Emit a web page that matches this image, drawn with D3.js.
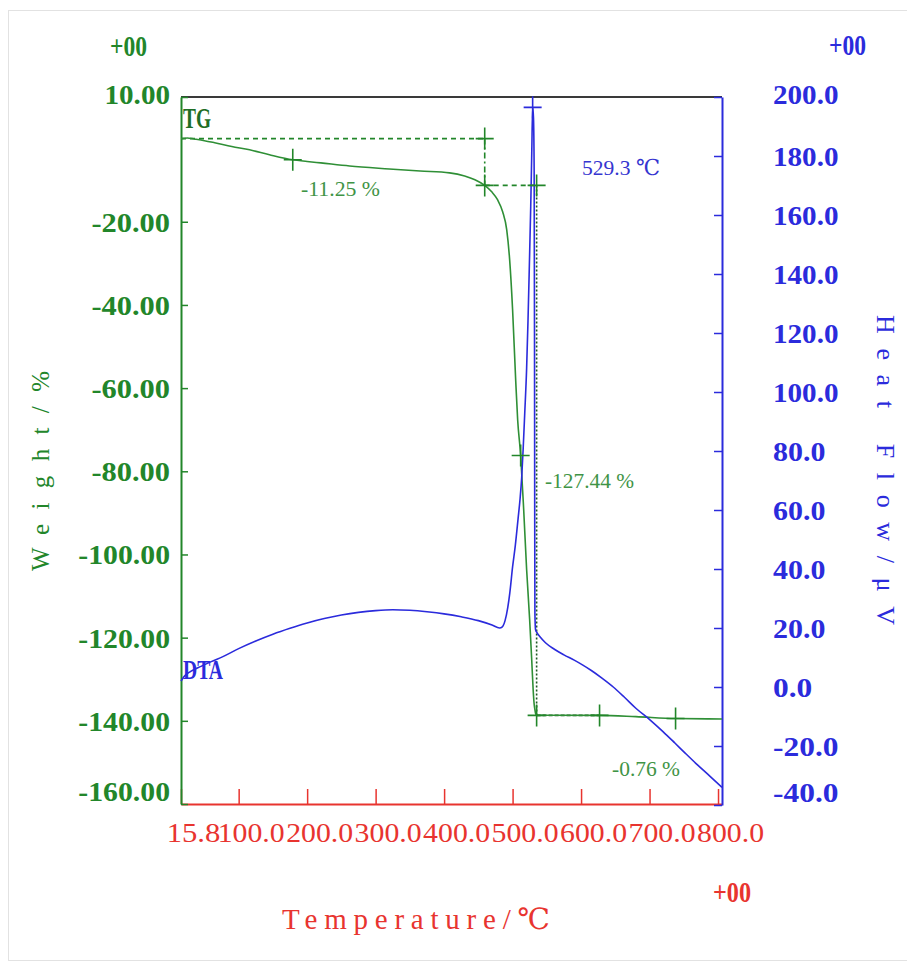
<!DOCTYPE html>
<html>
<head>
<meta charset="utf-8">
<script src="https://cdn.jsdelivr.net/npm/d3@7"></script>
<style>
  html, body { margin: 0; padding: 0; background: #fff; }
  svg { display: block; }
</style>
</head>
<body>
<svg id="chart" width="907" height="968"></svg>
<script>
// TG curve: temperature (°C) and weight change (%)
const tgTemp = [15.8, 25, 35, 50, 65, 90, 116, 145, 179, 200, 220, 262, 320, 365, 408, 430, 445,
  459.3, 469.5, 478, 485.5, 491.4, 495.7, 500, 504.5, 507.4, 511.8, 516.2, 520.5, 524.9, 527.9,
  530, 531.5, 532.5, 533.5, 535.1, 560, 627, 680, 738, 805.8];
const tgWeight = [0.0, 0.15, -0.1, -0.5, -1.0, -1.9, -2.7, -3.9, -5.1, -5.5, -5.85, -6.6, -7.3, -7.8, -8.25, -9.0, -9.9,
  -11.25, -12.8, -14.7, -17.6, -21.9, -29.1, -41.1, -58.0, -67.6, -76.2, -89.2, -103.6, -115.6, -125.2,
  -132.4, -136.0, -137.2, -138.2, -138.69, -138.65, -138.69, -139.0, -139.45, -139.55];

// DTA curve: temperature (°C) and heat flow (µV)
const dtaTemp = [15.8, 20, 30, 45, 60, 77, 100, 125, 150, 175, 200, 225, 250, 275, 300, 325, 350, 375, 400,
  425, 450, 470, 481, 485, 489, 493, 496, 500, 504, 508, 511, 513.3, 515.5, 517.6, 520.5, 522.5, 524.5,
  526.5, 528, 529.3, 530.5, 531.5, 532.0, 532.3, 532.6, 533.5, 536, 540, 548, 561, 575, 590, 602, 615,
  630, 647, 663, 680, 701, 720, 737, 752, 770, 788, 805.8];
const dtaHeat = [2.0, 3.5, 5.3, 7.0, 8.6, 10.3, 13.0, 15.6, 17.9, 19.9, 21.7, 23.2, 24.4, 25.3, 25.9, 26.2, 26.0, 25.5, 24.8,
  23.8, 22.5, 21.0, 20.0, 20.4, 22.5, 27.0, 32.0, 40.7, 48.0, 57.0, 64.0, 71.0, 81.0, 92.0, 108.0, 124.0, 143.0,
  163.0, 181.0, 196.5, 193.0, 175.0, 120.0, 60.0, 25.0, 19.5, 18.3, 17.0, 15.0, 12.8, 10.9, 9.1, 7.5, 5.6,
  3.1, 0.0, -3.4, -7.2, -11.2, -15.2, -19.0, -22.4, -26.4, -30.2, -34.0];

// Axis ticks
const tempTicks = [15.8, 100, 200, 300, 400, 500, 600, 700, 800];
const weightTicks = [10, -20, -40, -60, -80, -100, -120, -140, -160];
const heatTicks = [200, 180, 160, 140, 120, 100, 80, 60, 40, 20, 0, -20, -40];

// Step analysis of the TG curve
const stepStartTemp = 459.3;   // end of the first step
const stepEndTemp = 535.1;     // end of the main decomposition step
const tailTemps = [627, 738];  // span of the last small step
const levelStart = 0.0;
const levelAfterFirst = -11.25;
const levelAfterMain = -138.69;
const levelTail = -139.45;
const midMarker = [179, -5.1];
const inflexMarker = [511.8, -76.2];

// DTA peak
const peakTemp = 529.3;
const peakHeat = 196.5;

const GREEN = "#22862a", BLUE = "#2b2bdc", RED = "#e8342f";
const SERIF = "'Liberation Serif', 'DejaVu Serif', serif";

const svg = d3.select("#chart");

// outer frame of the figure
svg.append("rect").attr("x", 8.5).attr("y", 10.5).attr("width", 920).attr("height", 950)
  .attr("fill", "none").attr("stroke", "#e2e2e2").attr("stroke-width", 1);

const x = d3.scaleLinear().domain([15.8, 805.8]).range([181, 722]);
const yL = d3.scaleLinear().domain([-160, 10]).range([804, 97]);
const yR = d3.scaleLinear().domain([-40, 200]).range([805, 97]);

function txt(g, s, opts) {
  const t = g.append("text").text(s)
    .attr("font-family", SERIF)
    .attr("font-size", opts.size)
    .attr("font-weight", opts.weight || "normal")
    .attr("fill", opts.color)
    .attr("text-anchor", opts.anchor || "start");
  if (opts.len) t.attr("textLength", opts.len).attr("lengthAdjust", opts.adjust || "spacingAndGlyphs");
  if (opts.transform) t.attr("transform", opts.transform);
  else t.attr("x", opts.x).attr("y", opts.y);
  return t;
}

// top frame line
svg.append("line").attr("x1", x.range()[0]).attr("x2", x.range()[1])
  .attr("y1", yL.range()[1]).attr("y2", yL.range()[1])
  .attr("stroke", "#3a3a3a").attr("stroke-width", 2);

// bottom axis (temperature)
const gx = svg.append("g").attr("transform", `translate(0,${yL.range()[0]})`)
  .call(d3.axisBottom(x).tickValues(tempTicks).tickSizeInner(-15).tickSizeOuter(0)
    .tickPadding(19).tickFormat(d => d.toFixed(1)));
gx.select(".domain").attr("stroke", RED).attr("stroke-width", 2);
gx.selectAll(".tick line").attr("stroke", RED).attr("stroke-width", 1.5);
gx.selectAll(".tick text").attr("fill", RED).attr("font-family", SERIF).attr("font-size", 27)
  .attr("dx", 12).attr("dy", "0.7em")
  .attr("textLength", function() { return this.textContent.length * 13.4; })
  .attr("lengthAdjust", "spacingAndGlyphs");

// left axis (weight)
const gl = svg.append("g").attr("transform", `translate(${x.range()[0]},0)`)
  .call(d3.axisLeft(yL).tickValues(weightTicks).tickSizeInner(-7).tickSizeOuter(0)
    .tickPadding(11).tickFormat(d => d.toFixed(2)));
gl.select(".domain").attr("stroke", GREEN).attr("stroke-width", 2);
gl.selectAll(".tick line").attr("stroke", GREEN).attr("stroke-width", 1.5);
gl.selectAll(".tick text").attr("fill", GREEN).attr("font-family", SERIF).attr("font-size", 27)
  .attr("font-weight", "bold")
  .attr("textLength", function() { return this.textContent.length * 13.1; })
  .attr("lengthAdjust", "spacingAndGlyphs")
  .attr("dy", d => d === weightTicks[weightTicks.length - 1] ? "-0.12em" : (d === weightTicks[0] ? "0.25em" : "0.35em"));

// right axis (heat flow)
const gr = svg.append("g").attr("transform", `translate(${x.range()[1]},0)`)
  .call(d3.axisRight(yR).tickValues(heatTicks).tickSizeInner(-8).tickSizeOuter(0)
    .tickPadding(51).tickFormat(d => d.toFixed(1)));
gr.select(".domain").attr("stroke", BLUE).attr("stroke-width", 2);
gr.selectAll(".tick line").attr("stroke", BLUE).attr("stroke-width", 1.5);
gr.selectAll(".tick text").attr("fill", BLUE).attr("font-family", SERIF).attr("font-size", 27)
  .attr("font-weight", "bold")
  .attr("textLength", function() { return this.textContent.length * 13.1; })
  .attr("lengthAdjust", "spacingAndGlyphs")
  .attr("dy", d => d === heatTicks[heatTicks.length - 1] ? "-0.12em" : (d === heatTicks[0] ? "0.25em" : "0.35em"));

// exponent markers of each axis
txt(svg, "+00", { x: 110, y: 56, size: 29, weight: "bold", color: GREEN, len: 37 });
txt(svg, "+00", { x: 829, y: 55, size: 29, weight: "bold", color: BLUE, len: 37 });
txt(svg, "+00", { x: 713, y: 902, size: 29, weight: "bold", color: RED, len: 38 });

// axis titles
txt(svg, "Weight/%", { transform: "translate(49,471) rotate(-90)", size: 25, color: GREEN,
  anchor: "middle", len: 200, adjust: "spacing" });
txt(svg, "Heat Flow/μV", { transform: "translate(877,470) rotate(90)", size: 26, color: BLUE,
  anchor: "middle", len: 310, adjust: "spacing" });
txt(svg, "Temperature/℃", { x: 416, y: 929, size: 29, color: RED, anchor: "middle", len: 268, adjust: "spacing" });

// step guide lines
const plot = svg.append("g");
function guide(t1, w1, t2, w2, dash, color) {
  plot.append("line").attr("x1", x(t1)).attr("y1", yL(w1)).attr("x2", x(t2)).attr("y2", yL(w2))
    .attr("stroke", color || GREEN).attr("stroke-width", 1.6).attr("stroke-dasharray", dash);
}
guide(tempTicks[0], levelStart, stepStartTemp, levelStart, "5,4");
guide(stepStartTemp, levelStart, stepStartTemp, levelAfterFirst, "6,3,2,3");
guide(stepStartTemp, levelAfterFirst, stepEndTemp, levelAfterFirst, "5,4");
guide(stepEndTemp, levelAfterFirst, stepEndTemp, levelAfterMain, "2,2", "#1f5a24");
guide(stepEndTemp, levelAfterMain, tailTemps[0], levelAfterMain, "4,2", "#2a5a2a");

// TG line
const tgData = tgTemp.map((t, i) => [t, tgWeight[i]]);
plot.append("path").datum(tgData)
  .attr("d", d3.line().curve(d3.curveMonotoneX).x(d => x(d[0])).y(d => yL(d[1])))
  .attr("fill", "none").attr("stroke", "#2f8f36").attr("stroke-width", 1.6);

// DTA line
const dtaData = dtaTemp.map((t, i) => [t, dtaHeat[i]]);
plot.append("path").datum(dtaData)
  .attr("d", d3.line().curve(d3.curveMonotoneX).x(d => x(d[0])).y(d => yR(d[1])))
  .attr("fill", "none").attr("stroke", BLUE).attr("stroke-width", 1.6);

// cross markers
function cross(px, py, color) {
  plot.append("path")
    .attr("d", `M${px - 9},${py}H${px + 9}M${px},${py - 11}V${py + 11}`)
    .attr("stroke", color).attr("stroke-width", 1.6).attr("fill", "none");
}
const tgMarks = [midMarker, [stepStartTemp, levelStart], [stepStartTemp, levelAfterFirst],
  [stepEndTemp, levelAfterFirst], inflexMarker, [stepEndTemp, levelAfterMain],
  [tailTemps[0], levelAfterMain], [tailTemps[1], levelTail]];
tgMarks.forEach(d => cross(x(d[0]), yL(d[1]), GREEN));
cross(x(peakTemp), yR(peakHeat), BLUE);

// curve names
txt(svg, "TG", { x: 183, y: 128, size: 29, weight: "bold", color: "#1f6e25", len: 28 });
txt(svg, "DTA", { x: 183, y: 679, size: 28, weight: "bold", color: BLUE, len: 40 });

// step and peak annotations
const ANN = "#3f9446";
txt(svg, (levelAfterFirst - levelStart).toFixed(2) + " %", { x: 301, y: 196, size: 22, color: ANN, len: 79 });
txt(svg, (levelAfterMain - levelAfterFirst).toFixed(2) + " %", { x: 545, y: 488, size: 22, color: ANN, len: 89 });
txt(svg, (levelTail - levelAfterMain).toFixed(2) + " %", { x: 612, y: 776, size: 22, color: ANN, len: 68 });
txt(svg, peakTemp.toFixed(1) + " ℃", { x: 582, y: 175, size: 22, color: "#3535d0", len: 78 });
</script>
</body>
</html>
